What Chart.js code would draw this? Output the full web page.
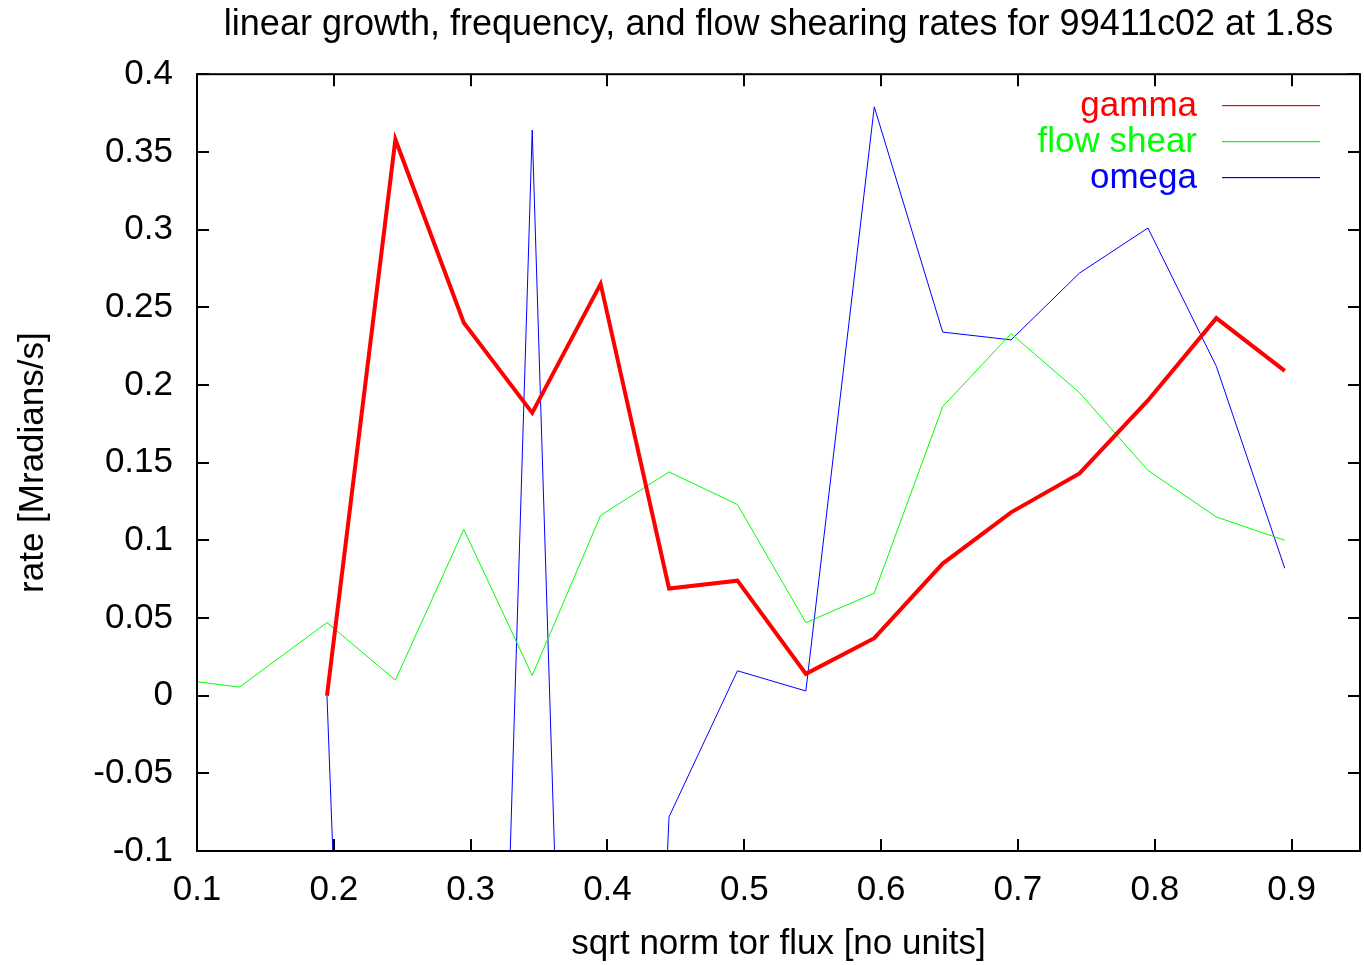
<!DOCTYPE html>
<html>
<head>
<meta charset="utf-8">
<script src="https://cdn.jsdelivr.net/npm/chart.js@4.4.0/dist/chart.umd.min.js"></script>
<style>
  html, body { margin: 0; padding: 0; background: #ffffff; }
  #wrap { width: 1364px; height: 965px; }
</style>
</head>
<body>
<div id="wrap"><canvas id="chart1"></canvas></div>
<script>
// data
let rhoShear = [0.1, 0.131, 0.195, 0.245, 0.295, 0.345, 0.395, 0.445, 0.495, 0.545, 0.595, 0.645, 0.695, 0.745, 0.795, 0.845, 0.895];
let flowShear = [0.009, 0.0055, 0.047, 0.010, 0.107, 0.013, 0.116, 0.144, 0.123, 0.047, 0.066, 0.186, 0.233, 0.195, 0.145, 0.115, 0.100];
let rho = [0.195, 0.245, 0.295, 0.345, 0.395, 0.445, 0.495, 0.545, 0.595, 0.645, 0.695, 0.745, 0.795, 0.845, 0.895];
let gamma = [0.0, 0.358, 0.240, 0.182, 0.265, 0.069, 0.074, 0.014, 0.037, 0.085, 0.118, 0.143, 0.190, 0.243, 0.209];
let omega = [0.0, -1.18, -1.08, 0.364, -1.06, -0.078, 0.016, 0.003, 0.379, 0.234, 0.229, 0.272, 0.301, 0.212, 0.082];

let xTicks = [0.1, 0.2, 0.3, 0.4, 0.5, 0.6, 0.7, 0.8, 0.9];
let xTickLabels = ["0.1", "0.2", "0.3", "0.4", "0.5", "0.6", "0.7", "0.8", "0.9"];
let yTicks = [-0.1, -0.05, 0, 0.05, 0.1, 0.15, 0.2, 0.25, 0.3, 0.35, 0.4];
let yTickLabels = ["-0.1", "-0.05", "0", "0.05", "0.1", "0.15", "0.2", "0.25", "0.3", "0.35", "0.4"];

let names = ["gamma", "flow shear", "omega"];
let colors = ["#ff0000", "#00ff00", "#0000ff"];

function pts(xs, ys) {
  return xs.map((x, i) => ({ x: x, y: ys[i] }));
}

Chart.defaults.font.family = "'Liberation Sans', Arial, sans-serif";
Chart.defaults.font.size = 35;
Chart.defaults.color = "#000000";

// gnuplot style box with inward ticks on all four sides
let framePlugin = {
  id: "frame",
  afterDraw(chart) {
    let ctx = chart.ctx;
    let a = chart.chartArea;
    let xs = chart.scales.x;
    let ys = chart.scales.y;
    let tl = 12;
    ctx.save();
    ctx.strokeStyle = "#000000";
    ctx.lineWidth = 2;
    ctx.beginPath();
    for (let v of xTicks) {
      let px = Math.round(xs.getPixelForValue(v));
      ctx.moveTo(px, a.bottom);
      ctx.lineTo(px, a.bottom - tl);
      ctx.moveTo(px, a.top);
      ctx.lineTo(px, a.top + tl);
    }
    for (let v of yTicks) {
      let py = Math.round(ys.getPixelForValue(v));
      ctx.moveTo(a.left, py);
      ctx.lineTo(a.left + tl, py);
      ctx.moveTo(a.right, py);
      ctx.lineTo(a.right - tl, py);
    }
    ctx.stroke();
    ctx.strokeRect(a.left, a.top, a.right - a.left, a.bottom - a.top);
    ctx.restore();
  },
};

// key in the top right corner: text first, then the line sample
let keyPlugin = {
  id: "key",
  afterDatasetsDraw(chart) {
    let ctx = chart.ctx;
    ctx.save();
    ctx.font = "35px 'Liberation Sans', Arial, sans-serif";
    ctx.textAlign = "right";
    ctx.textBaseline = "middle";
    names.forEach((n, i) => {
      let y = 105 + i * 36;
      ctx.fillStyle = colors[i];
      ctx.fillText(n, 1197, y + 1);
      ctx.fillRect(1222, y, 98, 1.2);
    });
    ctx.restore();
  },
};

let chart1 = document.getElementById("chart1");
let config1 = {
  type: "line",
  data: {
    datasets: [
      {
        label: names[0],
        data: pts(rho, gamma),
        borderColor: colors[0],
        backgroundColor: colors[0],
        borderWidth: 4,
        pointRadius: 0,
        clip: 0,
      },
      {
        label: names[1],
        data: pts(rhoShear, flowShear),
        borderColor: colors[1],
        backgroundColor: colors[1],
        borderWidth: 1,
        pointRadius: 0,
        clip: 0,
      },
      {
        label: names[2],
        data: pts(rho, omega),
        borderColor: colors[2],
        backgroundColor: colors[2],
        borderWidth: 1,
        pointRadius: 0,
        clip: 0,
      },
    ],
  },
  options: {
    animation: false,
    responsive: true,
    maintainAspectRatio: false,
    layout: {
      padding: { top: 0, right: 4, left: 0, bottom: 0 },
    },
    scales: {
      x: {
        type: "linear",
        min: 0.1,
        max: 0.95,
        afterBuildTicks: (s) => {
          s.ticks = xTicks.map((v) => ({ value: v }));
        },
        afterFit: (s) => {
          s.height = 114;
        },
        grid: { display: false },
        border: { display: false },
        ticks: {
          padding: 10,
          maxRotation: 0,
          autoSkip: false,
          callback: (v, i) => xTickLabels[i],
        },
        title: {
          display: true,
          text: "sqrt norm tor flux [no units]",
          padding: { top: 0, bottom: 0 },
        },
      },
      y: {
        type: "linear",
        min: -0.1,
        max: 0.4,
        afterBuildTicks: (s) => {
          s.ticks = yTicks.map((v) => ({ value: v }));
        },
        afterFit: (s) => {
          s.width = 197;
        },
        grid: { display: false },
        border: { display: false },
        ticks: {
          padding: 16,
          autoSkip: false,
          callback: (v, i) => yTickLabels[i],
        },
        title: {
          display: true,
          text: "rate [Mradians/s]",
          padding: { top: 12, bottom: 0 },
        },
      },
    },
    plugins: {
      legend: { display: false },
      tooltip: { enabled: false },
      title: {
        display: true,
        fullSize: false,
        text: "linear growth, frequency, and flow shearing rates for 99411c02 at 1.8s",
        font: { size: 36, weight: "normal" },
        padding: { top: 3, bottom: 28 },
      },
    },
  },
  plugins: [framePlugin, keyPlugin],
};

let lineChart = new Chart(chart1, config1);
</script>
</body>
</html>
